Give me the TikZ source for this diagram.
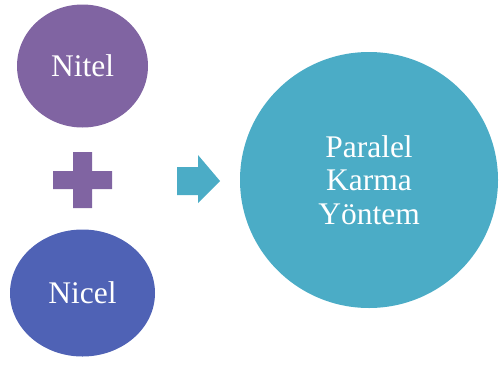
\documentclass[tikz,border=0pt]{standalone}
\usepackage{fontspec}
\setmainfont{Liberation Serif}
\usetikzlibrary{shapes.geometric}
\definecolor{cpurple}{RGB}{128,100,162}
\definecolor{cblue}{RGB}{79,98,181}
\definecolor{cteal}{RGB}{75,172,198}
\begin{document}
\begin{tikzpicture}[x=1pt,y=-1pt,
  bubble/.style={ellipse, inner sep=0pt, draw=none, text=white,
    font=\fontsize{31.5}{33.5}\selectfont, align=center}]
\useasboundingbox (0,0) rectangle (500,367);
\node[bubble, fill=cpurple, minimum width=131pt, minimum height=123pt] (nitel) at (82.5,66) {Nitel};
\node[bubble, fill=cblue, minimum width=145pt, minimum height=127pt] (nicel) at (82.5,293) {Nicel};
\node[bubble, fill=cteal, minimum width=258pt, minimum height=256pt] (paralel) at (369,180) {Paralel\\Karma\\Yöntem};
% plus sign
\fill[cpurple] (73,152) -- (92,152) -- (92,171) -- (112,171) -- (112,189) -- (92,189) -- (92,208) -- (73,208) -- (73,189) -- (53,189) -- (53,171) -- (73,171) -- cycle;
% arrow
\fill[cteal] (177,167) -- (198,167) -- (198,155) -- (220,181) -- (198,203) -- (198,195) -- (177,195) -- cycle;
\end{tikzpicture}
\end{document}
